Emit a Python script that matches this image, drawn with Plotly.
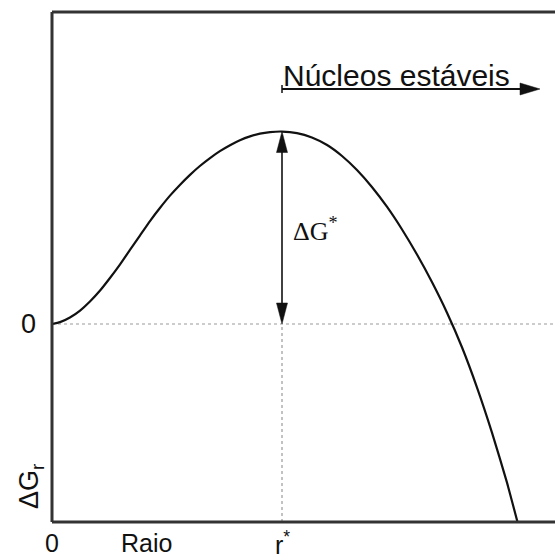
import plotly.graph_objects as go

# ---- data (r in units of r*, dG in units of dG*) ----
radius = [0.0, 0.035, 0.078, 0.122, 0.165, 0.209, 0.252, 0.296, 0.339, 0.383,
          0.426, 0.470, 0.513, 0.557, 0.600, 0.643, 0.687, 0.730, 0.774, 0.817,
          0.861, 0.904, 0.948, 1.0,
          1.065, 1.130, 1.196, 1.261, 1.326, 1.391, 1.457, 1.522, 1.587, 1.652,
          1.717, 1.783, 1.848, 1.913, 1.978, 2.024]
delta_g = [0.0, 0.010, 0.034, 0.070, 0.117, 0.174, 0.239, 0.310, 0.385, 0.461,
           0.535, 0.604, 0.667, 0.724, 0.775, 0.821, 0.862, 0.898, 0.929, 0.955,
           0.975, 0.989, 0.997, 1.0,
           0.992, 0.969, 0.930, 0.873, 0.800, 0.712, 0.608, 0.491, 0.361, 0.218,
           0.060, -0.122, -0.330, -0.564, -0.823, -1.029]
r_star = 1.0
dg_star = 1.0
x_ticks = [0.0, r_star]
x_tick_text = ["0", "r<sup>*</sup>"]
y_ticks = [0.0]
y_tick_text = ["0"]
x_title = "Raio"
y_title = "ΔG<sub>r</sub>"
barrier_label = "ΔG<sup>*</sup>"
stable_label = "Núcleos estáveis"

# ---- layout constants ----
W, H = 555, 558
ML, MR, MT, MB = 52, 0, 12, 36
X0, X1 = 0.0, 2.187
Y0, Y1 = -1.0286, 1.621
px_x = (W - ML - MR) / (X1 - X0)
px_y = (H - MT - MB) / (Y1 - Y0)

ink = "#111111"
frame = "#333333"
dot = "#9a9a9a"
sans = "Liberation Sans, Arial, sans-serif"
serif = "Liberation Serif, Times New Roman, serif"

fig = go.Figure()

# reference dotted lines
fig.add_trace(go.Scatter(x=[X0, X1], y=[0, 0], mode="lines",
                         line=dict(color=dot, width=1.2, dash="dot"),
                         hoverinfo="skip", showlegend=False))
fig.add_trace(go.Scatter(x=[r_star, r_star], y=[Y0, 0], mode="lines",
                         line=dict(color=dot, width=1.2, dash="dot"),
                         hoverinfo="skip", showlegend=False))

# main curve
fig.add_trace(go.Scatter(x=radius, y=delta_g, mode="lines",
                         line=dict(color=ink, width=2.2, shape="spline", smoothing=0.5),
                         hoverinfo="skip", showlegend=False))

# double arrow dG*
fig.add_trace(go.Scatter(x=[r_star, r_star], y=[0.05, dg_star - 0.05], mode="lines",
                         line=dict(color=ink, width=1.6),
                         hoverinfo="skip", showlegend=False))

hw = 5.5 / px_x
hl = 21 / px_y
shapes = []
shapes.append(dict(type="path", xref="x", yref="y",
                   path=f"M {r_star},{dg_star} L {r_star-hw},{dg_star-hl} L {r_star+hw},{dg_star-hl} Z",
                   fillcolor=ink, line=dict(color=ink, width=0.5)))
shapes.append(dict(type="path", xref="x", yref="y",
                   path=f"M {r_star},0 L {r_star-hw},{hl} L {r_star+hw},{hl} Z",
                   fillcolor=ink, line=dict(color=ink, width=0.5)))

# stable-nuclei arrow (235 px above the zero line)
ya = 235 / px_y
x_tip = (540 - ML) / px_x
ahl = 20 / px_x
ahw = 6 / px_y
fig.add_trace(go.Scatter(x=[r_star, x_tip - ahl], y=[ya, ya], mode="lines",
                         line=dict(color=ink, width=2),
                         hoverinfo="skip", showlegend=False))
shapes.append(dict(type="line", xref="x", yref="y", x0=r_star, x1=r_star,
                   y0=ya - 4 / px_y, y1=ya + 4 / px_y, line=dict(color=ink, width=1.5)))
shapes.append(dict(type="path", xref="x", yref="y",
                   path=f"M {x_tip},{ya} L {x_tip-ahl},{ya+ahw} L {x_tip-ahl},{ya-ahw} Z",
                   fillcolor=ink, line=dict(color=ink, width=0.5)))

# frame: left, top, bottom
for (x0, y0, x1, y1) in [(0, 0, 0, 1), (0, 1, 1, 1), (0, 0, 1, 0)]:
    shapes.append(dict(type="line", xref="paper", yref="paper", x0=x0, y0=y0, x1=x1, y1=y1,
                       line=dict(color=frame, width=3)))

annotations = []
bottom_font = dict(family=sans, size=25, color=ink)
# x tick labels
for xv, tt in zip(x_ticks, x_tick_text):
    annotations.append(dict(x=xv, y=0, xref="x", yref="paper", text=tt, showarrow=False,
                            xanchor="center", yanchor="middle", yshift=-21, borderpad=0,
                            font=bottom_font))
annotations.append(dict(x=(146 - ML) / px_x, y=0, xref="x", yref="paper", text=x_title,
                        showarrow=False, xanchor="center", yanchor="middle", yshift=-21,
                        borderpad=0, font=bottom_font))
# y tick labels
for yv, tt in zip(y_ticks, y_tick_text):
    annotations.append(dict(x=0, y=yv, xref="paper", yref="y", text=tt, showarrow=False,
                            xanchor="right", yanchor="middle", xshift=-14,
                            font=dict(family=sans, size=27, color=ink)))
annotations.append(dict(x=0, y=-163 / px_y, xref="paper", yref="y", text=y_title,
                        showarrow=False, textangle=-90, xanchor="center", yanchor="middle",
                        xshift=-21, font=dict(family=sans, size=27, color=ink)))
# labels
annotations.append(dict(x=r_star, y=249 / px_y, xref="x", yref="y", text=stable_label,
                        showarrow=False, xanchor="left", yanchor="middle", xshift=-1,
                        font=dict(family=sans, size=30, color=ink)))
annotations.append(dict(x=r_star + 9 / px_x, y=95 / px_y, xref="x", yref="y",
                        text=barrier_label, showarrow=False, xanchor="left", yanchor="middle",
                        font=dict(family=serif, size=26, color=ink)))

fig.update_layout(
    width=W, height=H,
    margin=dict(l=ML, r=MR, t=MT, b=MB),
    paper_bgcolor="white", plot_bgcolor="white",
    xaxis=dict(range=[X0, X1], showgrid=False, zeroline=False, showticklabels=False,
               ticks="", showline=False, fixedrange=True),
    yaxis=dict(range=[Y0, Y1], showgrid=False, zeroline=False, showticklabels=False,
               ticks="", showline=False, fixedrange=True),
    shapes=shapes, annotations=annotations, showlegend=False,
)

fig.write_html("out.html")
